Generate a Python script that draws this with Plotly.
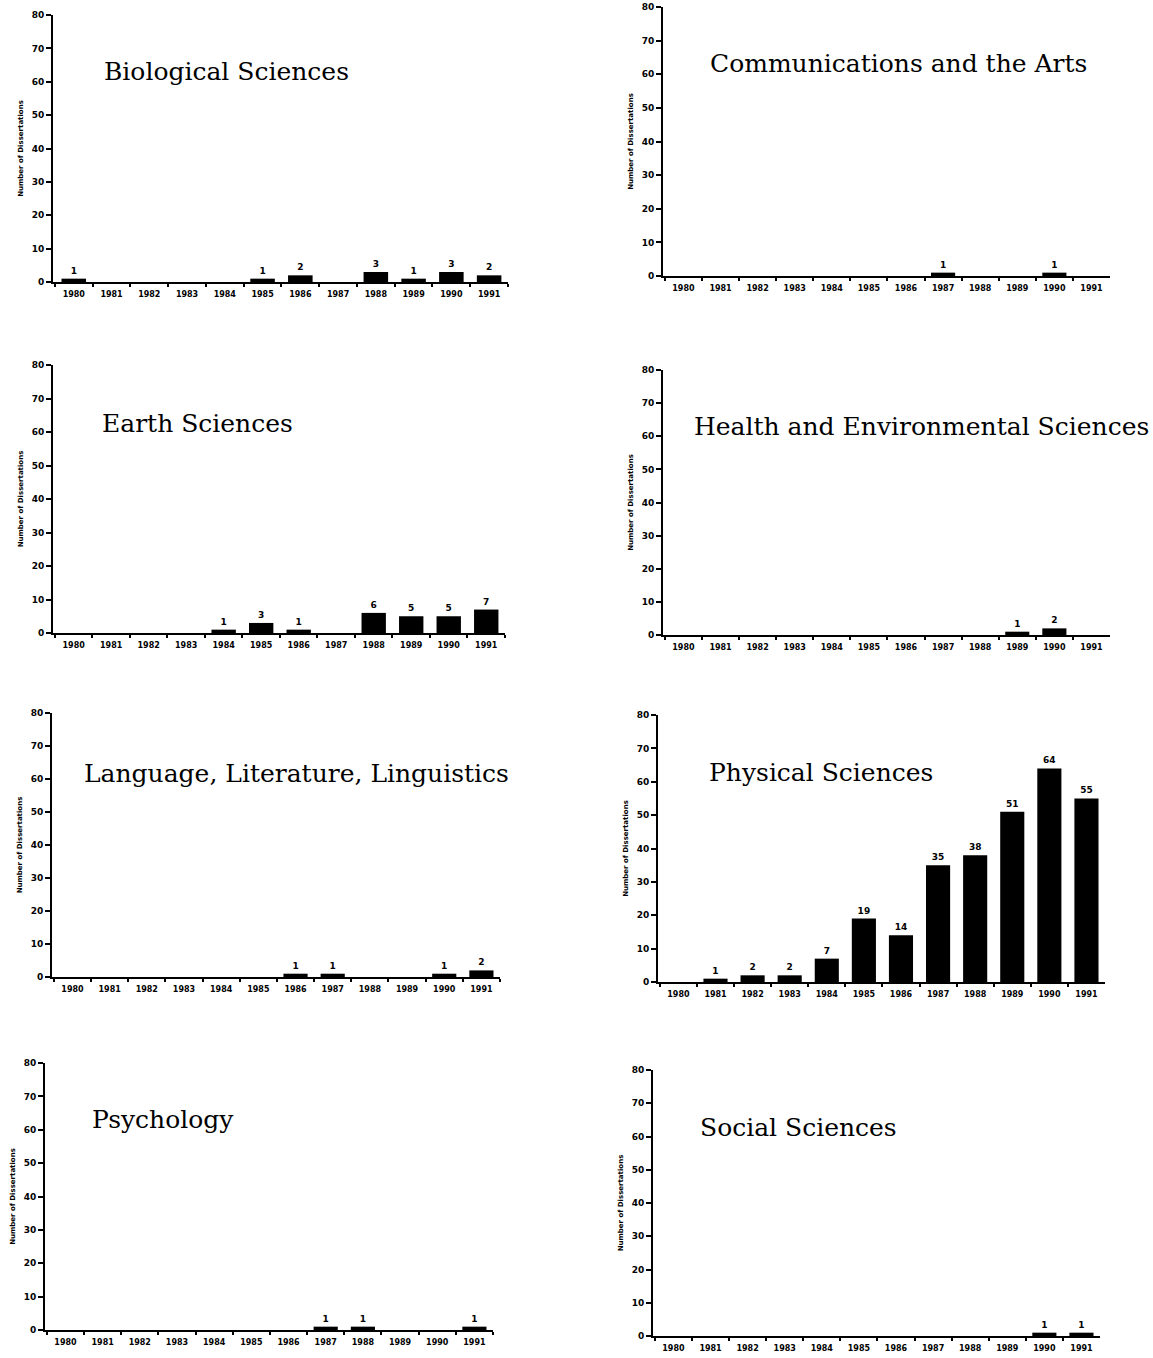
import plotly.graph_objects as go

years = ["1980", "1981", "1982", "1983", "1984", "1985",
         "1986", "1987", "1988", "1989", "1990", "1991"]

bio = [1, 0, 0, 0, 0, 1, 2, 0, 3, 1, 3, 2]
comm = [0, 0, 0, 0, 0, 0, 0, 1, 0, 0, 1, 0]
earth = [0, 0, 0, 0, 1, 3, 1, 0, 6, 5, 5, 7]
health = [0, 0, 0, 0, 0, 0, 0, 0, 0, 1, 2, 0]
lang = [0, 0, 0, 0, 0, 0, 1, 1, 0, 0, 1, 2]
phys = [0, 1, 2, 2, 7, 19, 14, 35, 38, 51, 64, 55]
psych = [0, 0, 0, 0, 0, 0, 0, 1, 1, 0, 0, 1]
social = [0, 0, 0, 0, 0, 0, 0, 0, 0, 0, 1, 1]

titles = ["Biological Sciences", "Communications and the Arts",
          "Earth Sciences", "Health and Environmental Sciences",
          "Language, Literature, Linguistics", "Physical Sciences",
          "Psychology", "Social Sciences"]
series = [bio, comm, earth, health, lang, phys, psych, social]

yticks = [0, 10, 20, 30, 40, 50, 60, 70, 80]
ytitle = "Number of Dissertations"

W, H = 1153, 1358
# pixel geometry of each panel: (axis_x, x_end, y_top(80), y_bottom(0))
panels = [
    (53, 508, 15, 282),
    (663, 1110, 7, 276),
    (53, 505, 365, 633),
    (663, 1110, 370, 635),
    (52, 500, 713, 977),
    (658, 1105, 715, 982),
    (45, 493, 1063, 1330),
    (653, 1100, 1070, 1336),
]
# title positions (left x, center y) in pixels
title_pos = [(102, 71), (708, 63), (100, 423), (692, 426),
             (82, 773), (707, 772), (90, 1119), (698, 1127)]

fig = go.Figure()
layout = dict(width=W, height=H, margin=dict(l=0, r=0, t=0, b=0),
              paper_bgcolor="white", plot_bgcolor="white",
              showlegend=False, bargap=0.35)
annotations = []

xtick_font = dict(family="DejaVu Sans", size=8, color="black", weight="bold")
ytick_font = dict(family="DejaVu Sans", size=9, color="black", weight="bold")

for i, (vals, (ax0, ax1, yt, yb)) in enumerate(zip(series, panels)):
    n = "" if i == 0 else str(i + 1)
    fig.add_trace(go.Bar(
        x=years, y=vals,
        marker=dict(color="black", line=dict(width=0)),
        text=[str(v) if v else "" for v in vals],
        textposition="outside",
        textfont=dict(family="DejaVu Sans", size=9, color="black", weight="bold"),
        cliponaxis=False,
        xaxis="x" + n, yaxis="y" + n,
    ))
    layout["xaxis" + n] = dict(
        domain=[ax0 / W, ax1 / W], anchor="y" + n,
        type="category", range=[-0.55, 11.5],
        showline=True, linecolor="black", linewidth=2,
        ticks="outside", ticklen=3, tickwidth=1.5, tickcolor="black",
        tickson="boundaries", showgrid=False, zeroline=False,
        ticklabelstandoff=3,
        tickfont=xtick_font, automargin=False, fixedrange=True,
    )
    layout["yaxis" + n] = dict(
        domain=[1 - yb / H, 1 - yt / H], anchor="x" + n,
        range=[0, 80], tickvals=yticks,
        ticktext=[str(t) for t in yticks],
        showline=True, linecolor="black", linewidth=2,
        ticks="outside", ticklen=5, tickwidth=1.5, tickcolor="black",
        showgrid=False, zeroline=False,
        tickfont=ytick_font, automargin=False, fixedrange=True,
        title=dict(text=ytitle, standoff=7,
                   font=dict(family="DejaVu Sans", size=7, color="black",
                             weight="bold")),
    )
    tx, ty = title_pos[i]
    annotations.append(dict(
        text=titles[i], xref="paper", yref="paper",
        x=tx / W, y=1 - ty / H, xanchor="left", yanchor="middle",
        showarrow=False,
        font=dict(family="DejaVu Serif", size=25, color="black"),
    ))

layout["annotations"] = annotations
fig.update_layout(**layout)
fig.write_html("out.html")
